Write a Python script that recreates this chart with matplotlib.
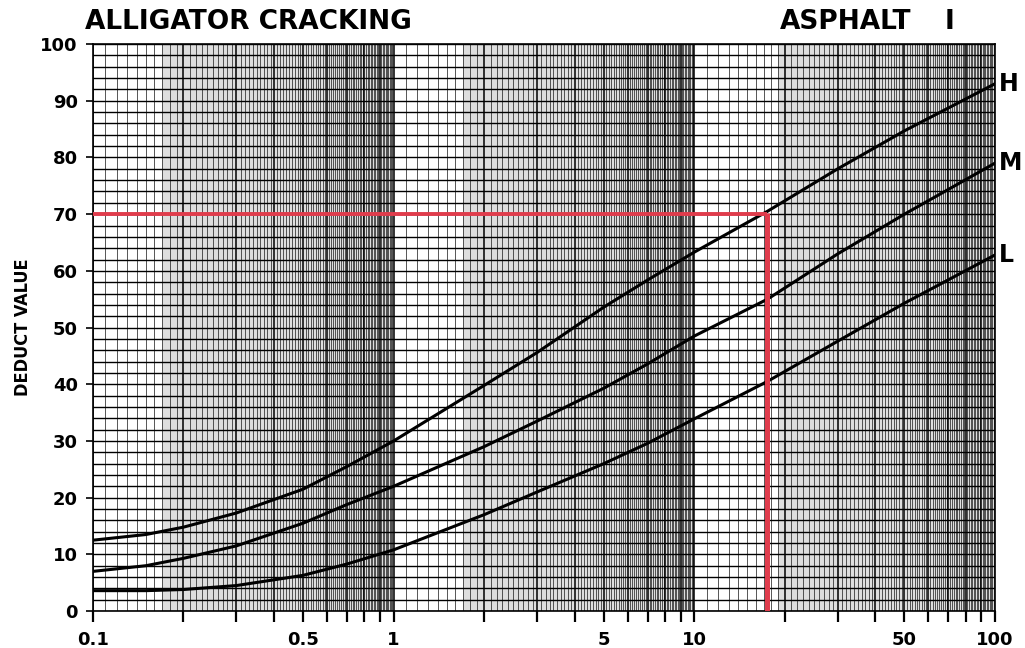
import matplotlib.pyplot as plt
import numpy as np

# density (% of sample area) vs deduct value
density = [0.1, 0.15, 0.2, 0.3, 0.5, 0.7, 1, 2, 3, 5, 7, 10, 17.5, 30, 50, 100]
high = [12.5, 13.5, 14.8, 17.3, 21.5, 25.5, 30, 39.8, 45.6, 53.6, 58.4, 63.3, 70.5, 78, 84.7, 93]
medium = [7, 8, 9.3, 11.5, 15.5, 18.8, 22, 29, 33.5, 39.3, 43.6, 48.5, 55, 63, 70, 79]
low = [3.6, 3.6, 3.8, 4.5, 6.3, 8.3, 10.8, 17, 21, 26, 29.6, 33.9, 40.5, 47.6, 54.3, 62.8]

# worked example (red lines)
example_density = 17.5
example_deduct = 70

x_labels = ["0.1", "0.5", "1", "5", "10", "50", "100"]
x_label_pos = [0.1, 0.5, 1, 5, 10, 50, 100]

fig = plt.figure(figsize=(10.25, 6.48), dpi=100)
ax = fig.add_axes([0.0907, 0.057, 0.88, 0.875])
ax.set_xscale("log")
ax.set_xlim(0.1, 100)
ax.set_ylim(0, 100)

# greyish photocopy bands of the log paper
for a, b in [(0.17, 1), (1.7, 10), (19, 100)]:
    ax.axvspan(a, b, color="#dedede", lw=0, zorder=0)

# log-paper grid
for d in [0.1, 1, 10]:
    for k in range(10, 100):
        v = d * k / 10
        if k % 10 == 0:
            ax.axvline(v, color="black", lw=1.1, zorder=1)
        else:
            ax.axvline(v, color="#3a3a3a", lw=0.6, zorder=1)
for y in range(0, 101, 2):
    ax.axhline(y, color="black", lw=1.0, zorder=1)

ax.plot(density, high, color="black", lw=2.2, zorder=3)
ax.plot(density, medium, color="black", lw=2.2, zorder=3)
ax.plot(density, low, color="black", lw=2.2, zorder=3)

ax.plot([0.1, example_density], [example_deduct, example_deduct], color="#e03c4c", lw=2.8, zorder=4, solid_capstyle="butt")
ax.plot([example_density, example_density], [example_deduct + 0.25, 0], color="#e03c4c", lw=3.6, zorder=4, solid_capstyle="butt")

for s in ax.spines.values():
    s.set_linewidth(1.2)

bold = dict(fontweight="bold", fontsize=13)
ax.set_xticks(x_label_pos)
ax.set_xticklabels(x_labels, **bold)
ax.xaxis.set_minor_locator(plt.matplotlib.ticker.LogLocator(base=10, subs=np.arange(2, 10)))
ax.xaxis.set_minor_formatter(plt.NullFormatter())
ax.tick_params(axis="x", which="both", direction="out", length=8, width=1.6, pad=6)
ax.set_yticks(range(0, 101, 10))
ax.set_yticklabels([str(v) for v in range(0, 101, 10)], **bold)
ax.tick_params(axis="y", direction="out", length=5, width=1.2, pad=6)

ax.set_ylabel("DEDUCT VALUE", fontsize=13, fontstretch="condensed", fontweight="bold", labelpad=6)

fig.text(0.083, 0.966, "ALLIGATOR CRACKING", fontsize=19, fontweight="bold", va="center")
fig.text(0.761, 0.966, "ASPHALT", fontsize=19, fontweight="bold", va="center")
fig.text(0.922, 0.966, "I", fontsize=19, fontweight="bold", va="center")

for name, series in [("H", high), ("M", medium), ("L", low)]:
    ax.text(1.004, series[-1] / 100, name, transform=ax.transAxes, fontsize=17,
            fontweight="bold", va="center", ha="left")

fig.savefig("out.png", dpi=100)
